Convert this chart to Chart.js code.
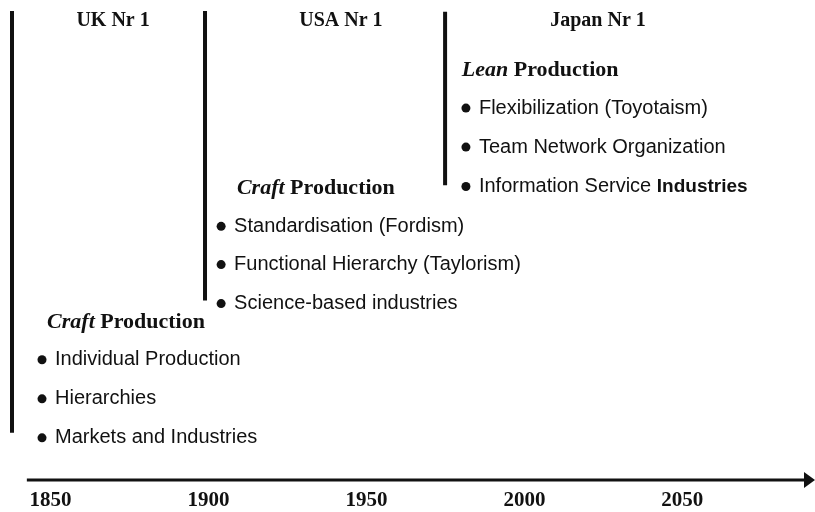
<!DOCTYPE html>
<html>
<head>
<meta charset="utf-8">
<script src="https://cdn.jsdelivr.net/npm/chart.js@4"></script>
<style>
  html, body { margin: 0; padding: 0; background: #fff; }
</style>
</head>
<body>
<canvas id="timeline" width="815" height="512"></canvas>
<script>
// x axis is in years, y axis counts text rows above the time arrow
const tickYears = [1850, 1900, 1950, 2000, 2050];
const axisStartYear = 1842.5;

const eraLabels = ["UK Nr 1", "USA Nr 1", "Japan Nr 1"];
const eraLabelYears = [1869.8, 1941.9, 2023.3];
const eraLabelRow = 11.76;
const eraStartYears = [1837.8, 1898.9, 1974.9];
const eraBarFrom = [1.21, 4.6, 7.55];
const eraBarTo = [12.02, 12.02, 12.0];

const modelNames = ["Craft", "Craft", "Lean"];
const modelYears = [1848.9, 1909.0, 1980.2];
const modelRows = [4.03, 7.47, 10.5];

// "|" splits a regular part from a bold tail
const bulletYears = [1847.3, 1904.0, 1981.5];
const ukItems = ["Individual Production", "Hierarchies", "Markets and Industries"];
const ukRows = [3.08, 2.08, 1.08];
const usaItems = ["Standardisation (Fordism)", "Functional Hierarchy (Taylorism)", "Science-based industries"];
const usaRows = [6.5, 5.52, 4.52];
const japanItems = ["Flexibilization (Toyotaism)", "Team Network Organization", "Information Service |Industries"];
const japanRows = [9.53, 8.53, 7.52];

const itemGroups = [ukItems, usaItems, japanItems];
const rowGroups = [ukRows, usaRows, japanRows];

const ink = "#111";
const serif = '"Liberation Serif", "Times New Roman", serif';
const sans = '"Liberation Sans", Arial, sans-serif';

const barSets = eraStartYears.map((year, i) => ({
  type: "line",
  data: [{ x: year, y: eraBarFrom[i] }, { x: year, y: eraBarTo[i] }],
  borderColor: ink,
  borderWidth: 4,
  pointRadius: 0,
  clip: false,
}));

const bulletSets = rowGroups.map((rows, i) => ({
  type: "scatter",
  data: rows.map((r) => ({ x: bulletYears[i], y: r })),
  backgroundColor: ink,
  borderWidth: 0,
  pointRadius: 4.5,
  clip: false,
}));

const timelineText = {
  id: "timelineText",
  afterDatasetsDraw(chart) {
    const { ctx, scales: { x, y } } = chart;
    ctx.save();
    ctx.fillStyle = ink;
    ctx.textBaseline = "middle";

    // era headings
    ctx.font = "bold 20px " + serif;
    ctx.textAlign = "center";
    eraLabels.forEach((label, i) => {
      ctx.fillText(label, x.getPixelForValue(eraLabelYears[i]), y.getPixelForValue(eraLabelRow));
    });

    // production model titles
    ctx.textAlign = "left";
    modelNames.forEach((name, i) => {
      let px = x.getPixelForValue(modelYears[i]);
      const py = y.getPixelForValue(modelRows[i]);
      ctx.font = "italic bold 22px " + serif;
      ctx.fillText(name, px, py);
      px += ctx.measureText(name + " ").width;
      ctx.font = "bold 22px " + serif;
      ctx.fillText("Production", px, py);
    });

    // bullet texts
    itemGroups.forEach((items, g) => {
      items.forEach((item, k) => {
        const [plain, bold] = item.split("|");
        let px = x.getPixelForValue(bulletYears[g]) + 13;
        const py = y.getPixelForValue(rowGroups[g][k]);
        ctx.font = "20px " + sans;
        ctx.fillText(plain, px, py);
        if (bold) {
          px += ctx.measureText(plain).width;
          ctx.font = "bold 19px " + sans;
          ctx.fillText(bold, px, py);
        }
      });
    });

    // time arrow
    const ay = y.getPixelForValue(0);
    const right = chart.chartArea.right;
    ctx.strokeStyle = ink;
    ctx.lineWidth = 3;
    ctx.beginPath();
    ctx.moveTo(x.getPixelForValue(axisStartYear), ay);
    ctx.lineTo(right - 8, ay);
    ctx.stroke();
    ctx.beginPath();
    ctx.moveTo(right - 11, ay - 8);
    ctx.lineTo(right, ay);
    ctx.lineTo(right - 11, ay + 8);
    ctx.closePath();
    ctx.fill();
    ctx.restore();
  },
};

new Chart(document.getElementById("timeline"), {
  data: { datasets: [...barSets, ...bulletSets] },
  options: {
    responsive: false,
    animation: false,
    devicePixelRatio: 1,
    layout: { autoPadding: false, padding: { left: 0, right: 0, top: 0, bottom: -9 } },
    plugins: { legend: { display: false }, tooltip: { enabled: false } },
    scales: {
      x: {
        type: "linear",
        min: 1834,
        max: 2092,
        grid: { display: false, drawTicks: false },
        border: { display: false },
        afterBuildTicks: (scale) => {
          scale.ticks = tickYears.map((v) => ({ value: v }));
        },
        ticks: {
          color: ink,
          padding: 10,
          maxRotation: 0,
          font: { family: serif, size: 21, weight: "bold", lineHeight: 1 },
          callback: (v) => String(v),
        },
      },
      y: { display: false, min: 0, max: 12.3 },
    },
  },
  plugins: [timelineText],
});
</script>
</body>
</html>
